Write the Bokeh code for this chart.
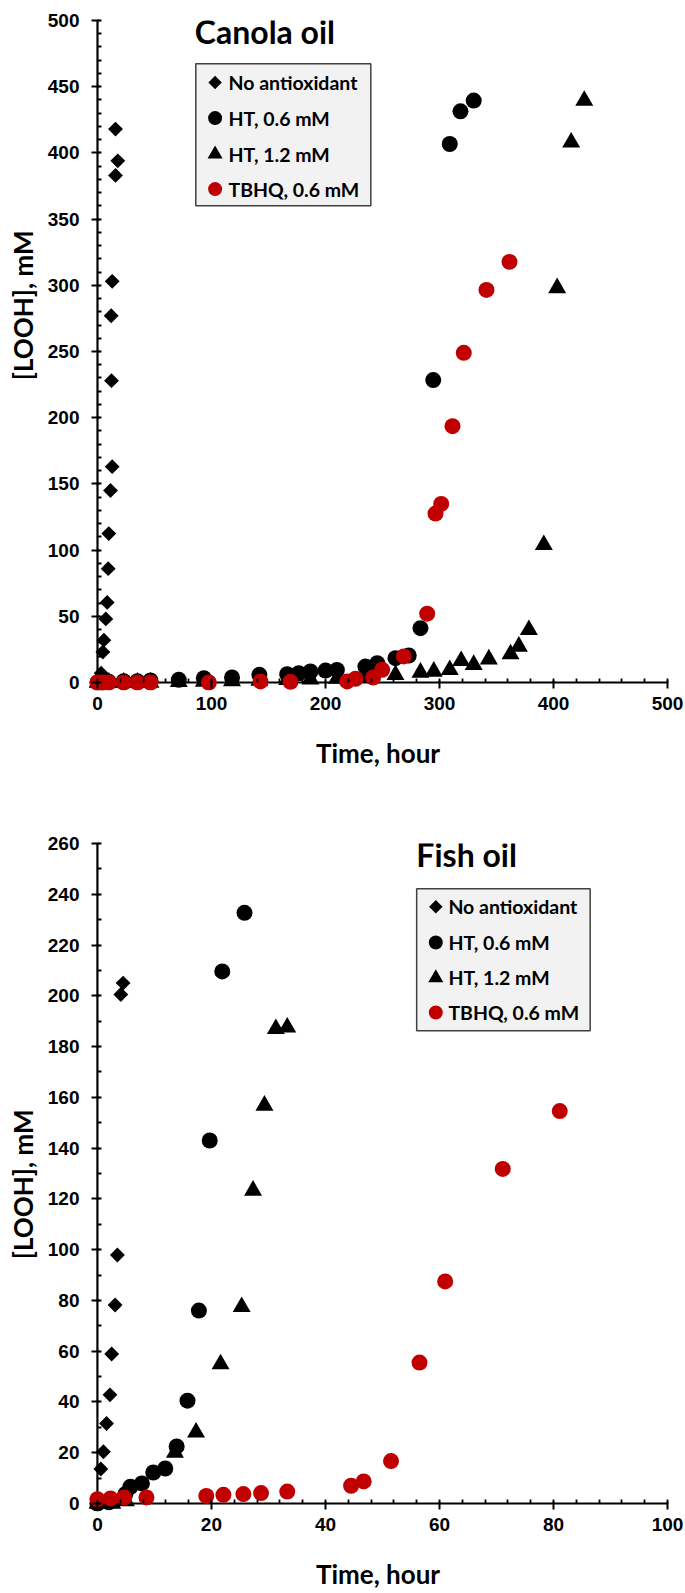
import math
from bokeh.plotting import figure
from bokeh.layouts import column
from bokeh.models import Range1d, SingleIntervalTicker, Title
from bokeh.core.properties import value
from bokeh.embed import file_html
from bokeh.resources import INLINE

# ---------------- data: Canola oil ----------------
canola_none_t = [0, 3.2, 4.7, 5.6, 7.3, 8.5, 9.4, 9.9, 11.4, 12.9, 12.3, 12.0, 12.9, 15.8, 17.8, 15.8]
canola_none_v = [0, 7, 23, 32, 48, 60.5, 86, 112.5, 145, 163, 228, 277, 303, 383, 394, 418]

canola_ht06_t = [0, 4, 10, 23, 35, 46.5, 71.3, 93.3, 118, 142, 166.4, 176.6, 186.8, 200, 210,
                 235, 245.4, 261.4, 273, 283.3, 294.5, 309, 318.4, 330]
canola_ht06_v = [0, 0, 0.5, 1, 1, 1.5, 2, 3.3, 3.8, 5.8, 6.3, 7, 8.3, 9, 9.5,
                 12, 14.6, 18.4, 20.4, 41, 228.4, 406.7, 431.4, 439.5]

canola_ht12_t = [0, 4, 10, 23, 35, 46.5, 71.3, 93.3, 118, 142, 166.4, 186.8, 210, 235,
                 261.4, 283.3, 295, 309, 319, 330, 343.3, 362.3, 369.6, 378.4, 391.5, 403.2, 415.5, 427]
canola_ht12_v = [0, 0, 0, 0, 0, 0, 0.5, 0.8, 1, 1.5, 2, 2.5, 3, 4,
                 5.8, 7.6, 8.3, 9.6, 16.4, 13.4, 17.6, 21.4, 27.2, 39.8, 104, 298, 408, 439.5]

canola_tbhq_t = [0, 4, 10, 23, 35, 46.5, 97.7, 143, 169.3, 219, 226.3, 241.8, 249.7, 268.7,
                 289.2, 296.5, 301.5, 311.4, 321.3, 341.2, 361.4]
canola_tbhq_v = [0, 0, 0, 0, 0, 0, 0, 0.8, 0.5, 0.8, 2.8, 3.8, 9.6, 19.7,
                 52, 127.6, 134.9, 193.6, 249, 296.5, 317.7]

# ---------------- data: Fish oil ----------------
fish_none_t = [0.6, 1.05, 1.6, 2.2, 2.5, 3.1, 3.5, 4.1, 4.5]
fish_none_v = [13.6, 20.4, 31.5, 42.8, 58.9, 78.2, 97.9, 200.5, 205]

fish_ht06_t = [0, 2, 4.9, 5.8, 7.8, 9.8, 11.9, 13.9, 15.8, 17.8, 19.7, 21.9, 25.8]
fish_ht06_v = [0, 0.5, 3.7, 6.6, 7.9, 12.2, 13.8, 22.5, 40.5, 76, 143, 209.6, 232.7]

fish_ht12_t = [0, 2.6, 5, 13.6, 17.3, 21.6, 25.3, 27.3, 29.3, 31.3, 33.3]
fish_ht12_v = [0, 0, 1, 20.1, 28, 54.9, 77.5, 123.3, 156.8, 187, 187.6]

fish_tbhq_t = [0, 2.3, 4.7, 8.6, 19.1, 22.1, 25.6, 28.7, 33.3, 44.5, 46.7, 51.5, 56.5, 61, 71.1, 81.1]
fish_tbhq_v = [1.7, 2, 2.4, 2.4, 3, 3.4, 3.7, 4.1, 4.7, 7, 8.7, 16.7, 55.5, 87.5, 131.8, 154.6]

series_labels = ["No antioxidant", "HT, 0.6 mM", "HT, 1.2 mM", "TBHQ, 0.6 mM"]
x_title = "Time, hour"
y_title = "[LOOH], mM"

BLACK = "#000000"
RED = "#C00000"
LABEL_FONT = "Lato"
TICK_FONT = "Liberation Sans"

STYLES = [("square", math.pi / 4, 10.5, BLACK),
          ("circle", 0, 16, BLACK),
          ("triangle", 0, 18, BLACK),
          ("circle", 0, 16, RED)]
LEG_STYLES = [("square", math.pi / 4, 9.5, BLACK),
              ("circle", 0, 14, BLACK),
              ("triangle", 0, 15, BLACK),
              ("circle", 0, 14, RED)]


def make_chart(cfg, series, title):
    W, H = cfg["width"], cfg["height"]
    bl, br, bt, bb = cfg["borders"]
    fw = W - bl - br
    fh = H - bt - bb
    padx, pady = cfg["pad"]
    sx = (fw - padx) / cfg["x_end"]
    sy = (fh - pady) / cfg["y_end"]
    p = figure(width=W, height=H, output_backend="svg", toolbar_location=None,
               x_range=Range1d(-padx / sx, cfg["x_end"]),
               y_range=Range1d(-pady / sy, cfg["y_end"]),
               min_border_left=bl, min_border_right=br,
               min_border_top=bt, min_border_bottom=bb)
    p.outline_line_color = None
    p.xgrid.visible = False
    p.ygrid.visible = False
    p.background_fill_color = "white"
    p.border_fill_color = "white"

    p.xaxis.ticker = SingleIntervalTicker(interval=cfg["x_major"], num_minor_ticks=cfg["x_minor"])
    p.yaxis.ticker = SingleIntervalTicker(interval=cfg["y_major"], num_minor_ticks=cfg["y_minor"])
    p.xaxis.bounds = (0, cfg["x_end"])
    p.yaxis.bounds = (0, cfg["y_end"])
    for ax, pad in ((p.xaxis, pady), (p.yaxis, padx)):
        ax.axis_line_color = None
        ax.major_tick_line_width = 2
        ax.minor_tick_line_width = 1.8
        ax.major_tick_line_color = BLACK
        ax.minor_tick_line_color = BLACK
        ax.major_tick_out = 6 - pad
        ax.major_tick_in = 2 + pad
        ax.minor_tick_out = -pad
        ax.minor_tick_in = 4 + pad
        ax.major_label_text_font = TICK_FONT
        ax.major_label_text_font_style = "bold"
        ax.major_label_text_font_size = "19px"
        ax.major_label_text_color = BLACK
    p.yaxis.major_label_standoff = 12
    p.xaxis.major_label_standoff = 8

    # x axis title
    p.xaxis.axis_label = x_title
    p.xaxis.axis_label_text_font = LABEL_FONT
    p.xaxis.axis_label_text_font_style = "bold"
    p.xaxis.axis_label_text_font_size = "26px"
    p.xaxis.axis_label_text_color = BLACK
    p.xaxis.axis_label_standoff = cfg["xlab_standoff"]

    # y axis title (as a side title so it can be offset along the axis)
    ttl = Title(text=y_title, align="right", vertical_align="middle",
                offset=cfg["ylab_offset"], standoff=cfg["ylab_standoff"],
                text_font=LABEL_FONT, text_font_style="bold", text_font_size="26px",
                text_color=BLACK)
    p.add_layout(ttl, "left")

    # axis lines drawn at the data origin
    p.segment(x0=[0, 0], y0=[0, 0], x1=[0, cfg["x_end"]], y1=[cfg["y_end"], 0],
              line_color=BLACK, line_width=2.2)

    # data series
    for (t, v), (mk, ang, size, col) in zip(series, STYLES):
        p.scatter(t, v, marker=mk, angle=ang, size=size, fill_color=col, line_color=col, line_width=0)

    def X(dx):
        return dx / sx

    def Y(dy):
        return dy / sy

    # title
    tx, ty = cfg["title_pos"]
    p.text(x=[X(tx)], y=[Y(ty)], text=[title], text_font=value(LABEL_FONT),
           text_font_style="bold", text_font_size="32px", text_color=BLACK,
           text_align="left", text_baseline="alphabetic")

    # legend box
    lx0, lx1, ly0, ly1 = cfg["legend_box"]
    p.quad(left=[X(lx0)], right=[X(lx1)], top=[Y(ly0)], bottom=[Y(ly1)],
           fill_color="#F2F2F2", line_color="#404040", line_width=1.5)
    mx, txx = cfg["legend_cols"]
    rows = cfg["legend_rows"]
    for row, (mk, ang, size, col) in zip(rows, LEG_STYLES):
        p.scatter([X(mx)], [Y(row)], marker=mk, angle=ang, size=size,
                  fill_color=col, line_color=col, line_width=0)
    p.text(x=[X(txx)] * 4, y=[Y(r) for r in rows], text=series_labels,
           text_font=value(LABEL_FONT), text_font_style="bold", text_font_size="19.5px",
           text_color=BLACK, text_align="left", text_baseline="middle")
    return p


# pixel offsets below are measured from the axis origin (right = +x, up = +y)
canola_cfg = dict(width=685, height=800, borders=(88, 18, 20, 110), pad=(9, 8),
                  x_end=500, y_end=500, x_major=100, x_minor=5, y_major=50, y_minor=5,
                  title_pos=(97.3, 650.7),
                  legend_box=(98.3, 273.3, 618.7, 476.7),
                  legend_cols=(117.6, 131),
                  legend_rows=[600, 564.4, 528.4, 493.4],
                  ylab_offset=210, ylab_standoff=10, xlab_standoff=24)

fish_cfg = dict(width=685, height=793, borders=(86, 15, 43, 82), pad=(9, 8),
                x_end=100, y_end=260, x_major=20, x_minor=5, y_major=20, y_minor=2,
                title_pos=(321.7, 649),
                legend_box=(322, 497, 614.7, 472.7),
                legend_cols=(341.3, 354),
                legend_rows=[596.7, 561, 525.7, 491],
                ylab_offset=266, ylab_standoff=10, xlab_standoff=24)

p1 = make_chart(canola_cfg, [(canola_none_t, canola_none_v), (canola_ht06_t, canola_ht06_v),
                             (canola_ht12_t, canola_ht12_v), (canola_tbhq_t, canola_tbhq_v)],
                "Canola oil")
p2 = make_chart(fish_cfg, [(fish_none_t, fish_none_v), (fish_ht06_t, fish_ht06_v),
                           (fish_ht12_t, fish_ht12_v), (fish_tbhq_t, fish_tbhq_v)],
                "Fish oil")

layout = column(p1, p2, spacing=0)
open("out.html", "w").write(file_html(layout, INLINE))
